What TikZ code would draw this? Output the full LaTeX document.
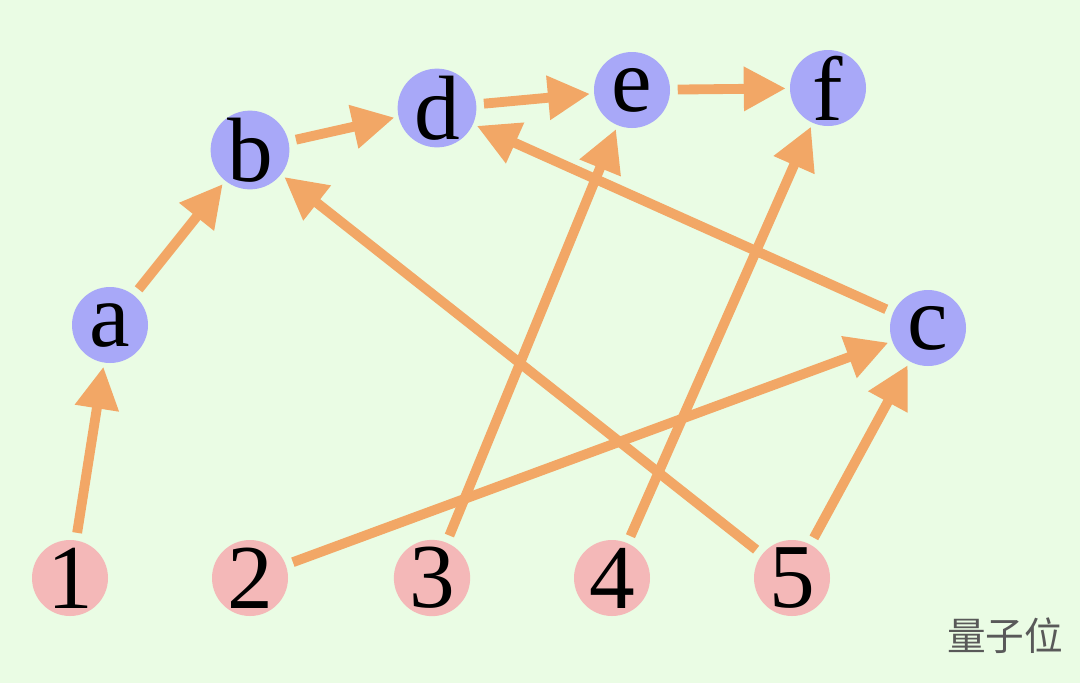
\documentclass[tikz,border=0pt]{standalone}
\usepackage{fontspec}
\setmainfont{Liberation Serif}
\newfontfamily\cjk{Noto Sans CJK SC}
\usetikzlibrary{arrows.meta}
\definecolor{bgc}{HTML}{EAFCE4}
\definecolor{topc}{HTML}{A8A8F8}
\definecolor{botc}{HTML}{F4B8B8}
\definecolor{edgec}{HTML}{F2A766}
\begin{document}
\begin{tikzpicture}[line join=round,
	vtx/.style={circle,inner sep=0pt,minimum size=0.76cm,font=\fontsize{26}{28}\selectfont},
	top/.style={vtx,fill=topc},
	bot/.style={vtx,fill=botc},
	edge/.style={draw=edgec,line width=2.8pt,-{Triangle[length=0.42cm,width=0.42cm]},shorten >=1pt,shorten <=2pt}]
	\fill[bgc] (0,0) rectangle (10.8,6.83);
	\useasboundingbox (0,0) rectangle (10.8,6.83);
	% lower row
	\node[bot] (n1) at (0.70,1.05) {1};
	\node[bot] (n2) at (2.50,1.05) {2};
	\node[bot] (n3) at (4.32,1.05) {3};
	\node[bot] (n4) at (6.12,1.05) {4};
	\node[bot] (n5) at (7.92,1.05) {5};
	% upper nodes
	\node[top] (a) at (1.10,3.58) {a};
	\node[top] (b) at (2.50,5.33) {b};
	\node[top] (d) at (4.37,5.75) {d};
	\node[top] (e) at (6.32,5.93) {e};
	\node[top] (f) at (8.28,5.95) {f};
	\node[top] (c) at (9.28,3.55) {c};
	\foreach \s/\t in {n1/a,a/b,b/d,d/e,e/f,n2/c,n3/e,n4/f,n5/b,n5/c,c/d}
		\draw[edge] (\s) -- (\t);
	\node[text=gray!70!black,font=\cjk\fontsize{11}{13}\selectfont] (wm) at (10.05,0.47) {量子位};
\end{tikzpicture}
\end{document}
